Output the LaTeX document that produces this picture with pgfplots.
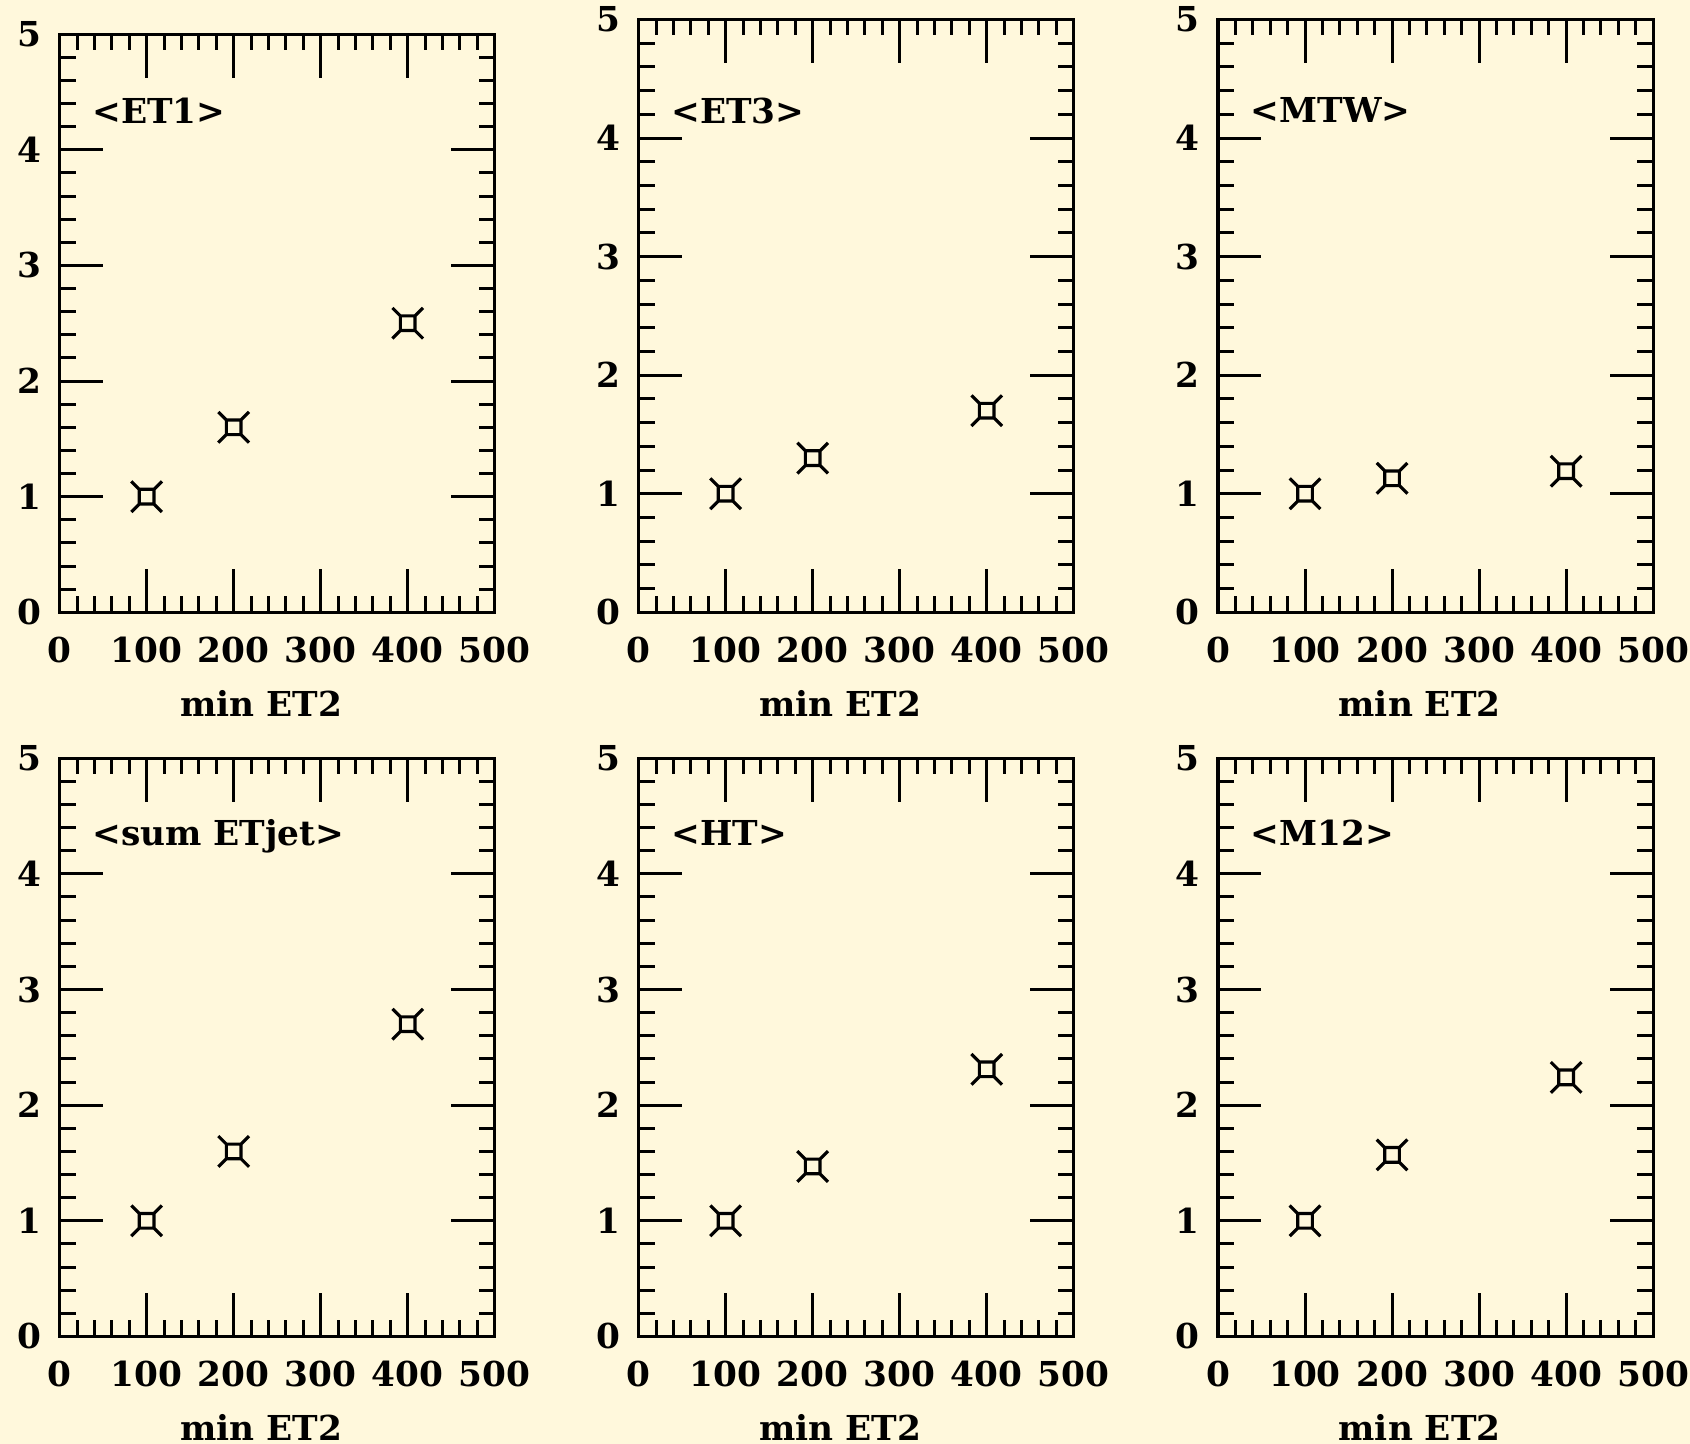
\documentclass[border=0pt]{standalone}
\usepackage{fontspec}
\setmainfont{DejaVu Serif}
\usepackage{pgfplots}
\pgfplotsset{compat=1.18}
\definecolor{bg}{HTML}{FFF8DC}

\pgfdeclareplotmark{sqw}{%
  \pgfpathrectangle{\pgfpoint{-2.2pt}{-2.2pt}}{\pgfpoint{4.4pt}{4.4pt}}%
  \pgfpathmoveto{\pgfpoint{2.2pt}{2.2pt}}\pgfpathlineto{\pgfpoint{4.6pt}{4.6pt}}%
  \pgfpathmoveto{\pgfpoint{-2.2pt}{2.2pt}}\pgfpathlineto{\pgfpoint{-4.6pt}{4.6pt}}%
  \pgfpathmoveto{\pgfpoint{2.2pt}{-2.2pt}}\pgfpathlineto{\pgfpoint{4.6pt}{-4.6pt}}%
  \pgfpathmoveto{\pgfpoint{-2.2pt}{-2.2pt}}\pgfpathlineto{\pgfpoint{-4.6pt}{-4.6pt}}%
  \pgfusepathqstroke}

\newcommand{\lblfont}{\fontsize{10.3}{12}\selectfont\bfseries}

\tikzset{tlabel/.style={anchor=base west, inner sep=0pt, font=\lblfont}}

\pgfplotsset{
  panel/.style={
    scale only axis, width=130.56pt, anchor=south west,
    xmin=0, xmax=500, ymin=0, ymax=5,
    xtick={0,100,200,300,400,500}, ytick={0,1,2,3,4,5},
    minor x tick num=4, minor y tick num=4,
    major tick length=13pt, minor tick length=4.8pt,
    tick align=inside,
    axis line style={line width=0.95pt, black},
    every tick/.style={black, line width=0.9pt},
    /pgf/number format/assume math mode=true,
    tick label style={font=\lblfont, inner sep=0pt},
    xticklabel style={anchor=north, yshift=-7.2pt},
    yticklabel style={anchor=east, xshift=-5.3pt},
    xlabel={min ET2},
    xlabel style={at={(axis description cs:0.5,0)}, anchor=base, yshift=-31.2pt, xshift=-4.8pt, inner sep=0pt, font=\lblfont},
  },
  pts/.style={only marks, mark=sqw, black, line width=0.95pt, mark options={solid, black}},
}

\begin{document}
\begin{tikzpicture}
\useasboundingbox (0,0) rectangle (507pt,433.2pt);
\fill[bg] (0,0) rectangle (507pt,433.2pt);
\begin{scope}
\clip (0,0) rectangle (507pt,433.2pt);

% top-left
\begin{axis}[panel, at={(17.88pt,249.51pt)}, height=173.43pt]
\addplot[pts] coordinates {(100,1) (200,1.6) (400,2.5)};
\node[tlabel] at (axis cs:37,4.225) {<ET1>};
\end{axis}

% top-middle
\begin{axis}[panel, at={(191.58pt,249.51pt)}, height=177.84pt]
\addplot[pts] coordinates {(100,1) (200,1.3) (400,1.7)};
\node[tlabel] at (axis cs:37,4.12) {<ET3>};
\end{axis}

% top-right
\begin{axis}[panel, at={(365.4pt,249.51pt)}, height=177.84pt]
\addplot[pts] coordinates {(100,1) (200,1.13) (400,1.19)};
\node[tlabel] at (axis cs:37,4.13) {<MTW>};
\end{axis}

% bottom-left
\begin{axis}[panel, at={(17.88pt,32.25pt)}, height=173.49pt]
\addplot[pts] coordinates {(100,1) (200,1.6) (400,2.7)};
\node[tlabel] at (axis cs:37,4.245) {<sum ETjet>};
\end{axis}

% bottom-middle
\begin{axis}[panel, at={(191.58pt,32.25pt)}, height=173.49pt]
\addplot[pts] coordinates {(100,1) (200,1.47) (400,2.31)};
\node[tlabel] at (axis cs:37,4.245) {<HT>};
\end{axis}

% bottom-right
\begin{axis}[panel, at={(365.4pt,32.25pt)}, height=173.49pt]
\addplot[pts] coordinates {(100,1) (200,1.57) (400,2.24)};
\node[tlabel] at (axis cs:37,4.245) {<M12>};
\end{axis}

\end{scope}
\end{tikzpicture}
\end{document}
